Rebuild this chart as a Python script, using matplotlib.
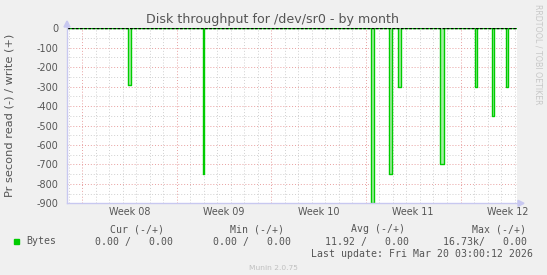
"""Disk throughput /dev/sr0 - by month (Munin style)."""
import matplotlib
matplotlib.use("Agg")
import matplotlib.pyplot as plt
import numpy as np

# days counted from the start of Week 08 (Mon 00:00)
x_start, x_end = -1.133, 32.16
spike_start = [3.41, 8.91, 21.40, 22.73, 23.40, 26.50, 29.10, 30.35, 31.35]
spike_end = [3.58, 9.03, 21.57, 22.93, 23.62, 26.75, 29.25, 30.50, 31.50]
read_bytes = [290, 747, 898, 750, 302, 698, 302, 451, 302]

week_labels = ["Week 08", "Week 09", "Week 10", "Week 11", "Week 12"]
y_ticks = [0, -100, -200, -300, -400, -500, -600, -700, -800, -900]

headers = ["Cur (-/+)", "Min (-/+)", "Avg (-/+)", "Max (-/+)"]
values = ["0.00 /   0.00", "0.00 /   0.00", "11.92 /   0.00", "16.73k/   0.00"]

W, H = 547, 275
plt.rcParams["axes.unicode_minus"] = False
fig = plt.figure(figsize=(W / 100, H / 100), dpi=100, facecolor="#f0f0f0")

L, R, T, B = 67, 516.7, 28.3, 203.3
ax = fig.add_axes([L / W, 1 - B / H, (R - L) / W, (B - T) / H])
ax.set_facecolor("white")
ax.set_xlim(x_start, x_end)
ax.set_ylim(-900, 0)

# grid
for d in np.arange(-1, 33):
    col = "#e8a0a0" if d % 7 == 0 else "#d0d0d0"
    ax.axvline(d, color=col, lw=0.7, linestyle=(0, (1, 2)), zorder=1)
for v in np.arange(-850, 0, 50):
    col = "#e8a0a0" if v % 100 == 0 else "#d0d0d0"
    ax.axhline(v, color=col, lw=0.7, linestyle=(0, (1, 2)), zorder=1)

# read series (negative), build step trace
xs, ys = [x_start], [0]
for s, e, v in zip(spike_start, spike_end, read_bytes):
    xs += [s, s, e, e]
    ys += [0, -v, -v, 0]
xs.append(x_end)
ys.append(0)
ax.fill(xs, ys, color="#a6eea6", lw=0, zorder=2)
ax.plot(xs, ys, color="#00cc00", lw=1.0, zorder=3)
ax.axhline(0, color="black", lw=1.0, linestyle=(0, (2, 1)), zorder=4)

for sp in ax.spines.values():
    sp.set_visible(False)

ax.set_yticks(y_ticks)
ax.set_yticklabels([str(v) for v in y_ticks])
ax.set_xticks([3.5 + 7 * i for i in range(len(week_labels))])
ax.set_xticklabels(week_labels)
ax.tick_params(axis="both", length=0, labelsize=6.9, colors="#555555")
ax.tick_params(axis="y", pad=6)
ax.tick_params(axis="x", pad=3)

# axes with arrows
axcol = "#c8c8f0"
fig.add_artist(plt.Line2D([L / W, L / W], [1 - B / H, 1 - 22 / H], color=axcol, lw=1))
fig.add_artist(plt.Line2D([L / W, 522 / W], [1 - B / H, 1 - B / H], color=axcol, lw=1))
fig.add_artist(plt.Polygon([[(L - 3) / W, 1 - 27 / H], [(L + 3) / W, 1 - 27 / H], [L / W, 1 - 21 / H]],
                           closed=True, color=axcol, transform=fig.transFigure))
fig.add_artist(plt.Polygon([[518 / W, 1 - (B - 3) / H], [518 / W, 1 - (B + 3) / H], [524 / W, 1 - B / H]],
                           closed=True, color=axcol, transform=fig.transFigure))

fig.text(273 / W, 1 - 19 / H, "Disk throughput for /dev/sr0 - by month",
         ha="center", va="center", fontsize=9.1, color="#555555")
fig.text(10 / W, 1 - 115 / H, "Pr second read (-) / write (+)", rotation=90,
         ha="center", va="center", fontsize=8.2, color="#555555")
fig.text(538 / W, 1 - 54 / H, "RRDTOOL / TOBI OETIKER", rotation=270,
         ha="center", va="center", fontsize=5.7, color="#c8c8c8")

mono = "DejaVu Sans Mono"
hx = [164, 284, 405, 526]
for x, h in zip(hx, headers):
    fig.text(x / W, 1 - 229 / H, h, ha="right", va="center", family=mono, fontsize=7.1, color="#555555")
fig.add_artist(plt.Rectangle((14 / W, 1 - 244 / H), 5 / W, 5 / H, color="#00cc00",
                             transform=fig.transFigure))
fig.text(26 / W, 1 - 241.5 / H, "Bytes", ha="left", va="center", family=mono, fontsize=7.1, color="#555555")
vx = [173, 291, 409, 527]
for x, v in zip(vx, values):
    fig.text(x / W, 1 - 241.5 / H, v, ha="right", va="center", family=mono, fontsize=7.1, color="#555555")
fig.text(533 / W, 1 - 254.3 / H, "Last update: Fri Mar 20 03:00:12 2026", ha="right", va="center",
         family=mono, fontsize=7.1, color="#555555")
fig.text(273 / W, 1 - 267.5 / H, "Munin 2.0.75", ha="center", va="center", fontsize=5.4, color="#c0c0c0")

fig.savefig("out.png", dpi=100, facecolor=fig.get_facecolor())
